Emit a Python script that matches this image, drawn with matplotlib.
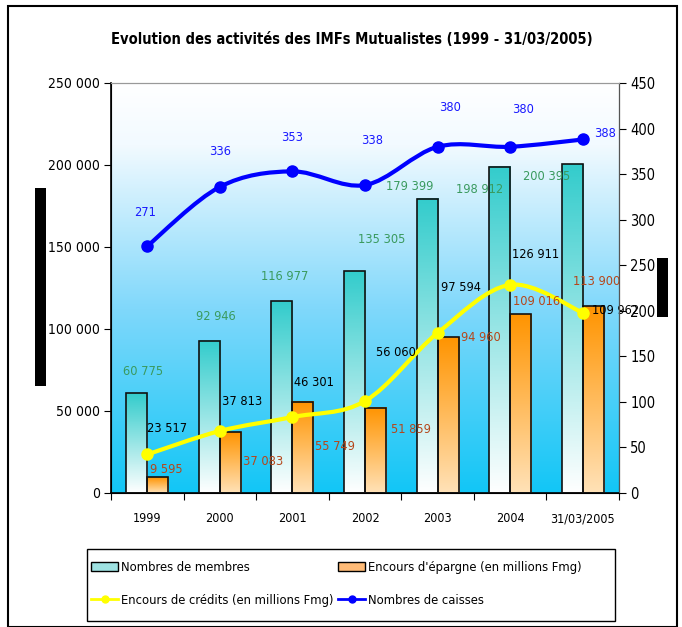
import numpy as np
import matplotlib.pyplot as plt
from matplotlib.patches import Patch, Rectangle
from matplotlib.lines import Line2D
from matplotlib.path import Path
from matplotlib.patches import PathPatch
from matplotlib.colors import LinearSegmentedColormap
from matplotlib.ticker import FuncFormatter

plt.rcParams['font.family'] = ['DejaVu Sans']
plt.rcParams['font.stretch'] = 'condensed'

categories = ['1999', '2000', '2001', '2002', '2003', '2004', '31/03/2005']
membres = [60775, 92946, 116977, 135305, 179399, 198912, 200395]
epargne = [9595, 37083, 55749, 51859, 94960, 109016, 113900]
credits = [23517, 37813, 46301, 56060, 97594, 126911, 109962]
caisses = [271, 336, 353, 338, 380, 380, 388]

# label offsets in pixels (dx, dy) relative to bar top / point
off_membres = [(6, 22), (7, 24), (3, 25), (27, 32), (-17, 12), (-20, -23), (-26, -12)]
off_epargne = [(9, 8), (33, -29), (32, -45), (35, -22), (33, 0), (16, 13), (3, 25)]
off_credits = [(20, 26), (22, 29), (22, 35), (31, 49), (23, 45), (25, 30), (33, 2)]
off_caisses = [(-2, 34), (0, 35), (0, 34), (7, 45), (12, 39), (13, 37), (22, 6)]


def fmt(v):
    return f'{int(v):,}'.replace(',', ' ')


def smooth(ax, xs, ys, **kw):
    # Excel-like smoothed line (Catmull-Rom as cubic Bezier)
    pts = np.column_stack([xs, ys]).astype(float)
    verts = [pts[0]]
    codes = [Path.MOVETO]
    n = len(pts)
    for i in range(n - 1):
        p0 = pts[max(i - 1, 0)]
        p1 = pts[i]
        p2 = pts[i + 1]
        p3 = pts[min(i + 2, n - 1)]
        c1 = p1 + (p2 - p0) / 6.0
        c2 = p2 - (p3 - p1) / 6.0
        verts += [c1, c2, p2]
        codes += [Path.CURVE4] * 3
    ax.add_patch(PathPatch(Path(verts, codes), fill=False, **kw))


W, H = 682, 627
fig = plt.figure(figsize=(W / 100, H / 100), dpi=100)
ax = fig.add_axes([111 / W, 1 - 493 / H, (619 - 111) / W, (493 - 83) / H])
ax2 = ax.twinx()

x = np.arange(len(categories))
ax.set_xlim(-0.5, len(categories) - 0.5)
ax.set_ylim(0, 250000)
ax2.set_ylim(0, 450)

# background gradient
bg = LinearSegmentedColormap.from_list('bg', [(0, '#12c6f6'), (0.45, '#80d8fb'), (0.85, '#f2faff'), (1, '#ffffff')])
grad = np.linspace(0, 1, 256).reshape(-1, 1)
ax.imshow(grad, extent=[-0.5, len(categories) - 0.5, 0, 250000], origin='lower',
          aspect='auto', cmap=bg, zorder=0)

# gradient bars
w = 0.29
cm_m = LinearSegmentedColormap.from_list('m', ['#ffffff', '#33cccc'])
cm_e = LinearSegmentedColormap.from_list('e', ['#ffe2b8', '#ff9400'])
for xs, vals, cm in [(x - w / 2, membres, cm_m), (x + w / 2, epargne, cm_e)]:
    bars = ax.bar(xs, vals, width=w, facecolor='none', edgecolor='#111111', linewidth=1.2, zorder=3)
    for b in bars:
        ax.imshow(grad, extent=[b.get_x(), b.get_x() + b.get_width(), 0, b.get_height()],
                  origin='lower', aspect='auto', cmap=cm, zorder=2)
ax.set_xlim(-0.5, len(categories) - 0.5)
ax.set_ylim(0, 250000)

# credits line on left axis
smooth(ax, x, credits, edgecolor='#ffff00', linewidth=3, zorder=4)
ax.plot(x, credits, 'o', color='#ffff00', markersize=8, zorder=5)

# caisses line on right axis
smooth(ax2, x, caisses, edgecolor='#0000ff', linewidth=3, zorder=4)
ax2.plot(x, caisses, 'o', color='#0000ff', markersize=8, zorder=5)

lab = dict(fontsize=9.2, ha='center', va='center', textcoords='offset pixels')
for i in range(len(categories)):
    ax.annotate(fmt(membres[i]), (x[i] - w / 2, membres[i]), xytext=off_membres[i], color='#3a9a5e', zorder=6, **lab)
    ax.annotate(fmt(epargne[i]), (x[i] + w / 2, epargne[i]), xytext=off_epargne[i], color='#b5461a', zorder=6, **lab)
    ax.annotate(fmt(credits[i]), (x[i], credits[i]), xytext=off_credits[i], color='black', zorder=6, **lab)
    ax2.annotate(fmt(caisses[i]), (x[i], caisses[i]), xytext=off_caisses[i], color='#1a1aff', zorder=6, **lab)

# axes styling
ax.set_yticks(np.arange(0, 250001, 50000))
ax.yaxis.set_major_formatter(FuncFormatter(lambda v, p: fmt(v)))
ax2.set_yticks(np.arange(0, 451, 50))
ax.tick_params(axis='y', labelsize=10, length=5, direction='out', pad=3)
ax2.tick_params(axis='y', labelsize=10.5, length=5, direction='out', pad=3)
ax.set_xticks(np.arange(-0.5, len(categories), 1))
ax.set_xticklabels([])
ax.set_xticks(x, minor=True)
ax.set_xticklabels(categories, minor=True)
ax.tick_params(axis='x', which='major', length=5, direction='out')
ax.tick_params(axis='x', which='minor', length=0, labelsize=9, pad=14)
ax.spines['top'].set_color('#999999')
ax2.spines['top'].set_color('#999999')
ax2.spines['right'].set_color('#555555')
for s in ['left', 'bottom']:
    ax.spines[s].set_linewidth(1.2)

fig.text(352 / W, 1 - 40 / H, 'Evolution des activités des IMFs Mutualistes (1999 - 31/03/2005)',
         ha='center', va='center', fontsize=10.5, fontweight='bold')

# legend: frame plus two columns
h_m = Patch(facecolor='#9fe3e3', edgecolor='black', label='Nombres de membres')
h_e = Patch(facecolor='#ffbb77', edgecolor='black', label="Encours d'épargne (en millions Fmg)")
h_c = Line2D([], [], color='#ffff00', lw=2, marker='o', markersize=5, label='Encours de crédits (en millions Fmg)')
h_k = Line2D([], [], color='#0000ff', lw=2, marker='o', markersize=5, label='Nombres de caisses')
fig.patches.append(Rectangle((87 / W, 1 - 621 / H), (615 - 87) / W, (621 - 549) / H, transform=fig.transFigure,
                             fill=False, edgecolor='black', linewidth=1))
leg_kw = dict(loc='center left', fontsize=9.3, frameon=False, handlelength=2.1,
              handletextpad=0.2, borderaxespad=0, borderpad=0, labelspacing=1.5)
fig.legend(handles=[h_m, h_c], bbox_to_anchor=(91 / W, 1 - 584 / H), **leg_kw)
fig.legend(handles=[h_e, h_k], bbox_to_anchor=(338 / W, 1 - 584 / H), **leg_kw)

# outer frame and masked blocks
fig.patches.append(Rectangle((8 / W, 0), (677 - 8) / W, (H - 6) / H, transform=fig.transFigure,
                             fill=False, edgecolor='black', linewidth=1.5))
fig.patches.append(Rectangle((35 / W, 1 - 386 / H), 11 / W, 198 / H, transform=fig.transFigure,
                             facecolor='black', edgecolor='none'))
fig.patches.append(Rectangle((657 / W, 1 - 317 / H), 11 / W, 59 / H, transform=fig.transFigure,
                             facecolor='black', edgecolor='none'))

fig.savefig('out.png', dpi=100)
